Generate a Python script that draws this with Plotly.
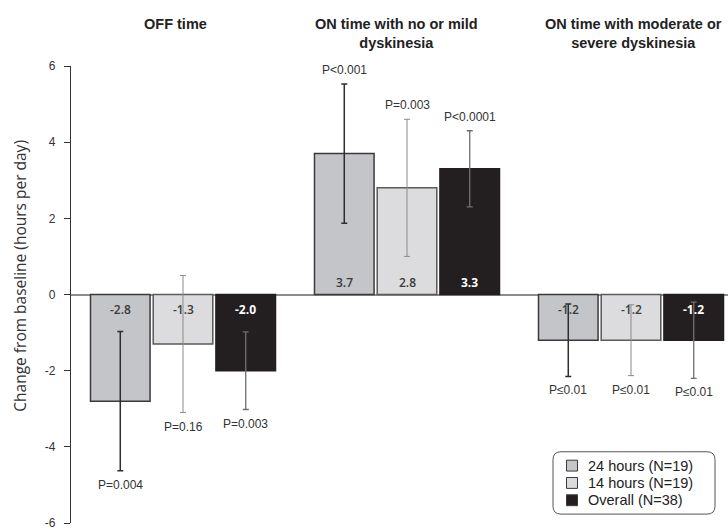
import plotly.graph_objects as go

# Outcome groups (x categories) and their two-line headings
groups = ["OFF time", "ON time with no or mild dyskinesia", "ON time with moderate or severe dyskinesia"]
group_titles = ["OFF time", "ON time with no or mild<br>dyskinesia", "ON time with moderate or<br>severe dyskinesia"]

# Mean change from baseline (hours per day) and error half-widths per cohort
series_names = ["24 hours (N=19)", "14 hours (N=19)", "Overall (N=38)"]
change_24h = [-2.8, 3.7, -1.2]
change_14h = [-1.3, 2.8, -1.2]
change_all = [-2.0, 3.3, -1.2]
err_24h = [1.83, 1.83, 0.95]
err_14h = [1.80, 1.80, 0.93]
err_all = [1.02, 1.00, 1.00]

# P-values shown beyond each error bar
p_24h = ["P=0.004", "P<0.001", "P≤0.01"]
p_14h = ["P=0.16", "P=0.003", "P≤0.01"]
p_all = ["P=0.003", "P<0.0001", "P≤0.01"]

y_ticks = [-6, -4, -2, 0, 2, 4, 6]

values = [change_24h, change_14h, change_all]
errors = [err_24h, err_14h, err_all]
pvals = [p_24h, p_14h, p_all]

# Styling
W, H = 728, 530
ML, MR, MT, MB = 71, 0, 66, 2
BARGAP = 0.16
fills = ["#c4c5c9", "#dcdcde", "#231f20"]
outlines = ["#3a3a3a", "#5a5a5a", "#231f20"]
err_colors = ["#2e2e2e", "#8a8a8a", "#707070"]
err_widths = [1.5, 1.0, 1.3]
label_styles = [
    dict(color="#3a3a3a", size=12, family="Open Sans", weight=600),
    dict(color="#3a3a3a", size=12, family="Open Sans", weight=600),
    dict(color="#ffffff", size=12, family="Open Sans", weight=700),
]
SANS = "Liberation Sans, Arial, sans-serif"

x_idx = list(range(len(groups)))
plot_w = W - ML - MR
plot_h = H - MT - MB
cat_px = 224.0  # pixels per category
x_range = [-0.5, -0.5 + plot_w / cat_px]


def paper_x(px):
    return (px - ML) / plot_w


def paper_y(py):
    return (H - MB - py) / plot_h


fig = go.Figure()
for i, name in enumerate(series_names):
    fig.add_trace(go.Bar(
        x=x_idx,
        y=values[i],
        name=name,
        showlegend=False,
        marker=dict(color=fills[i], line=dict(color=outlines[i], width=1.5)),
        error_y=dict(type="data", array=errors[i], visible=True,
                     color=err_colors[i], thickness=err_widths[i], width=3),
    ))

slot = (1 - BARGAP) / len(series_names)
annotations = []
for i in range(len(series_names)):
    for g in x_idx:
        v = values[i][g]
        e = errors[i][g]
        up = v >= 0
        xc = g + (i - 1) * slot
        # value label just inside the bar, next to the zero line
        annotations.append(dict(
            x=xc, y=0, xref="x", yref="y",
            text=f"{v:.1f}", showarrow=False,
            yanchor="middle", yshift=12 if up else -15,
            font=label_styles[i],
        ))
        # P-value beyond the error-bar end
        annotations.append(dict(
            x=xc, y=v + e if up else v - e,
            xref="x", yref="y",
            text=pvals[i][g], showarrow=False,
            yanchor="bottom" if up else "top",
            yshift=5 if up else -5,
            font=dict(family=SANS, size=12, color="#333333"),
        ))

# Group headings
title_px = [175, 396, 633]
for g, t in enumerate(group_titles):
    annotations.append(dict(
        x=paper_x(title_px[g]), y=paper_y(13),
        xref="paper", yref="paper",
        text=t, showarrow=False,
        xanchor="center", yanchor="top", align="center",
        font=dict(family=SANS, size=14.5, color="#222222", weight="bold"),
    ))

# Y-axis title
annotations.append(dict(
    x=paper_x(20), y=paper_y(278),
    xref="paper", yref="paper",
    text="Change from baseline (hours per day)",
    textangle=-90, showarrow=False,
    xanchor="center", yanchor="middle",
    font=dict(family="Open Sans", size=15.5, color="#333333"),
))

# Legend: rounded frame, swatches and labels
shapes = []
x0, x1 = paper_x(553), paper_x(715)
y0, y1 = paper_y(519), paper_y(456)
rx, ry = 8 / plot_w, 8 / plot_h
frame = (
    f"M {x0 + rx},{y1} L {x1 - rx},{y1} Q {x1},{y1} {x1},{y1 - ry} "
    f"L {x1},{y0 + ry} Q {x1},{y0} {x1 - rx},{y0} "
    f"L {x0 + rx},{y0} Q {x0},{y0} {x0},{y0 + ry} "
    f"L {x0},{y1 - ry} Q {x0},{y1} {x0 + rx},{y1} Z"
)
shapes.append(dict(type="path", path=frame, xref="paper", yref="paper",
                   line=dict(color="#555555", width=1), fillcolor="rgba(0,0,0,0)"))
row_px = [470, 487.5, 505]
sw = 5.5
for i, name in enumerate(series_names):
    cy = row_px[i]
    shapes.append(dict(type="rect", xref="paper", yref="paper",
                       x0=paper_x(572 - sw), x1=paper_x(572 + sw),
                       y0=paper_y(cy + sw), y1=paper_y(cy - sw),
                       fillcolor=fills[i], line=dict(color="#3a3a3a", width=1)))
    annotations.append(dict(
        x=paper_x(586), y=paper_y(cy), xref="paper", yref="paper",
        text=name, showarrow=False, xanchor="left", yanchor="middle",
        font=dict(family=SANS, size=14.5, color="#222222"),
    ))

fig.update_layout(
    width=W, height=H,
    margin=dict(l=ML, r=MR, t=MT, b=MB, pad=0),
    paper_bgcolor="white", plot_bgcolor="white",
    barmode="group", bargap=BARGAP, bargroupgap=0.05,
    showlegend=False,
    xaxis=dict(range=x_range, showticklabels=False, showline=False,
               showgrid=False, zeroline=False, ticks=""),
    yaxis=dict(range=[-6, 6], tickvals=y_ticks, ticktext=[str(t) for t in y_ticks],
               showline=True, linecolor="#333333", linewidth=1.2,
               ticks="outside", ticklen=6, tickcolor="#333333", tickwidth=1.2,
               showgrid=False, zeroline=True, zerolinecolor="#8c8c8c", zerolinewidth=1.5,
               tickfont=dict(family=SANS, size=12, color="#333333"),
               ticklabelstandoff=6, ticklabeloverflow="allow"),
    shapes=shapes,
    annotations=annotations,
)

fig.write_html("out.html")
